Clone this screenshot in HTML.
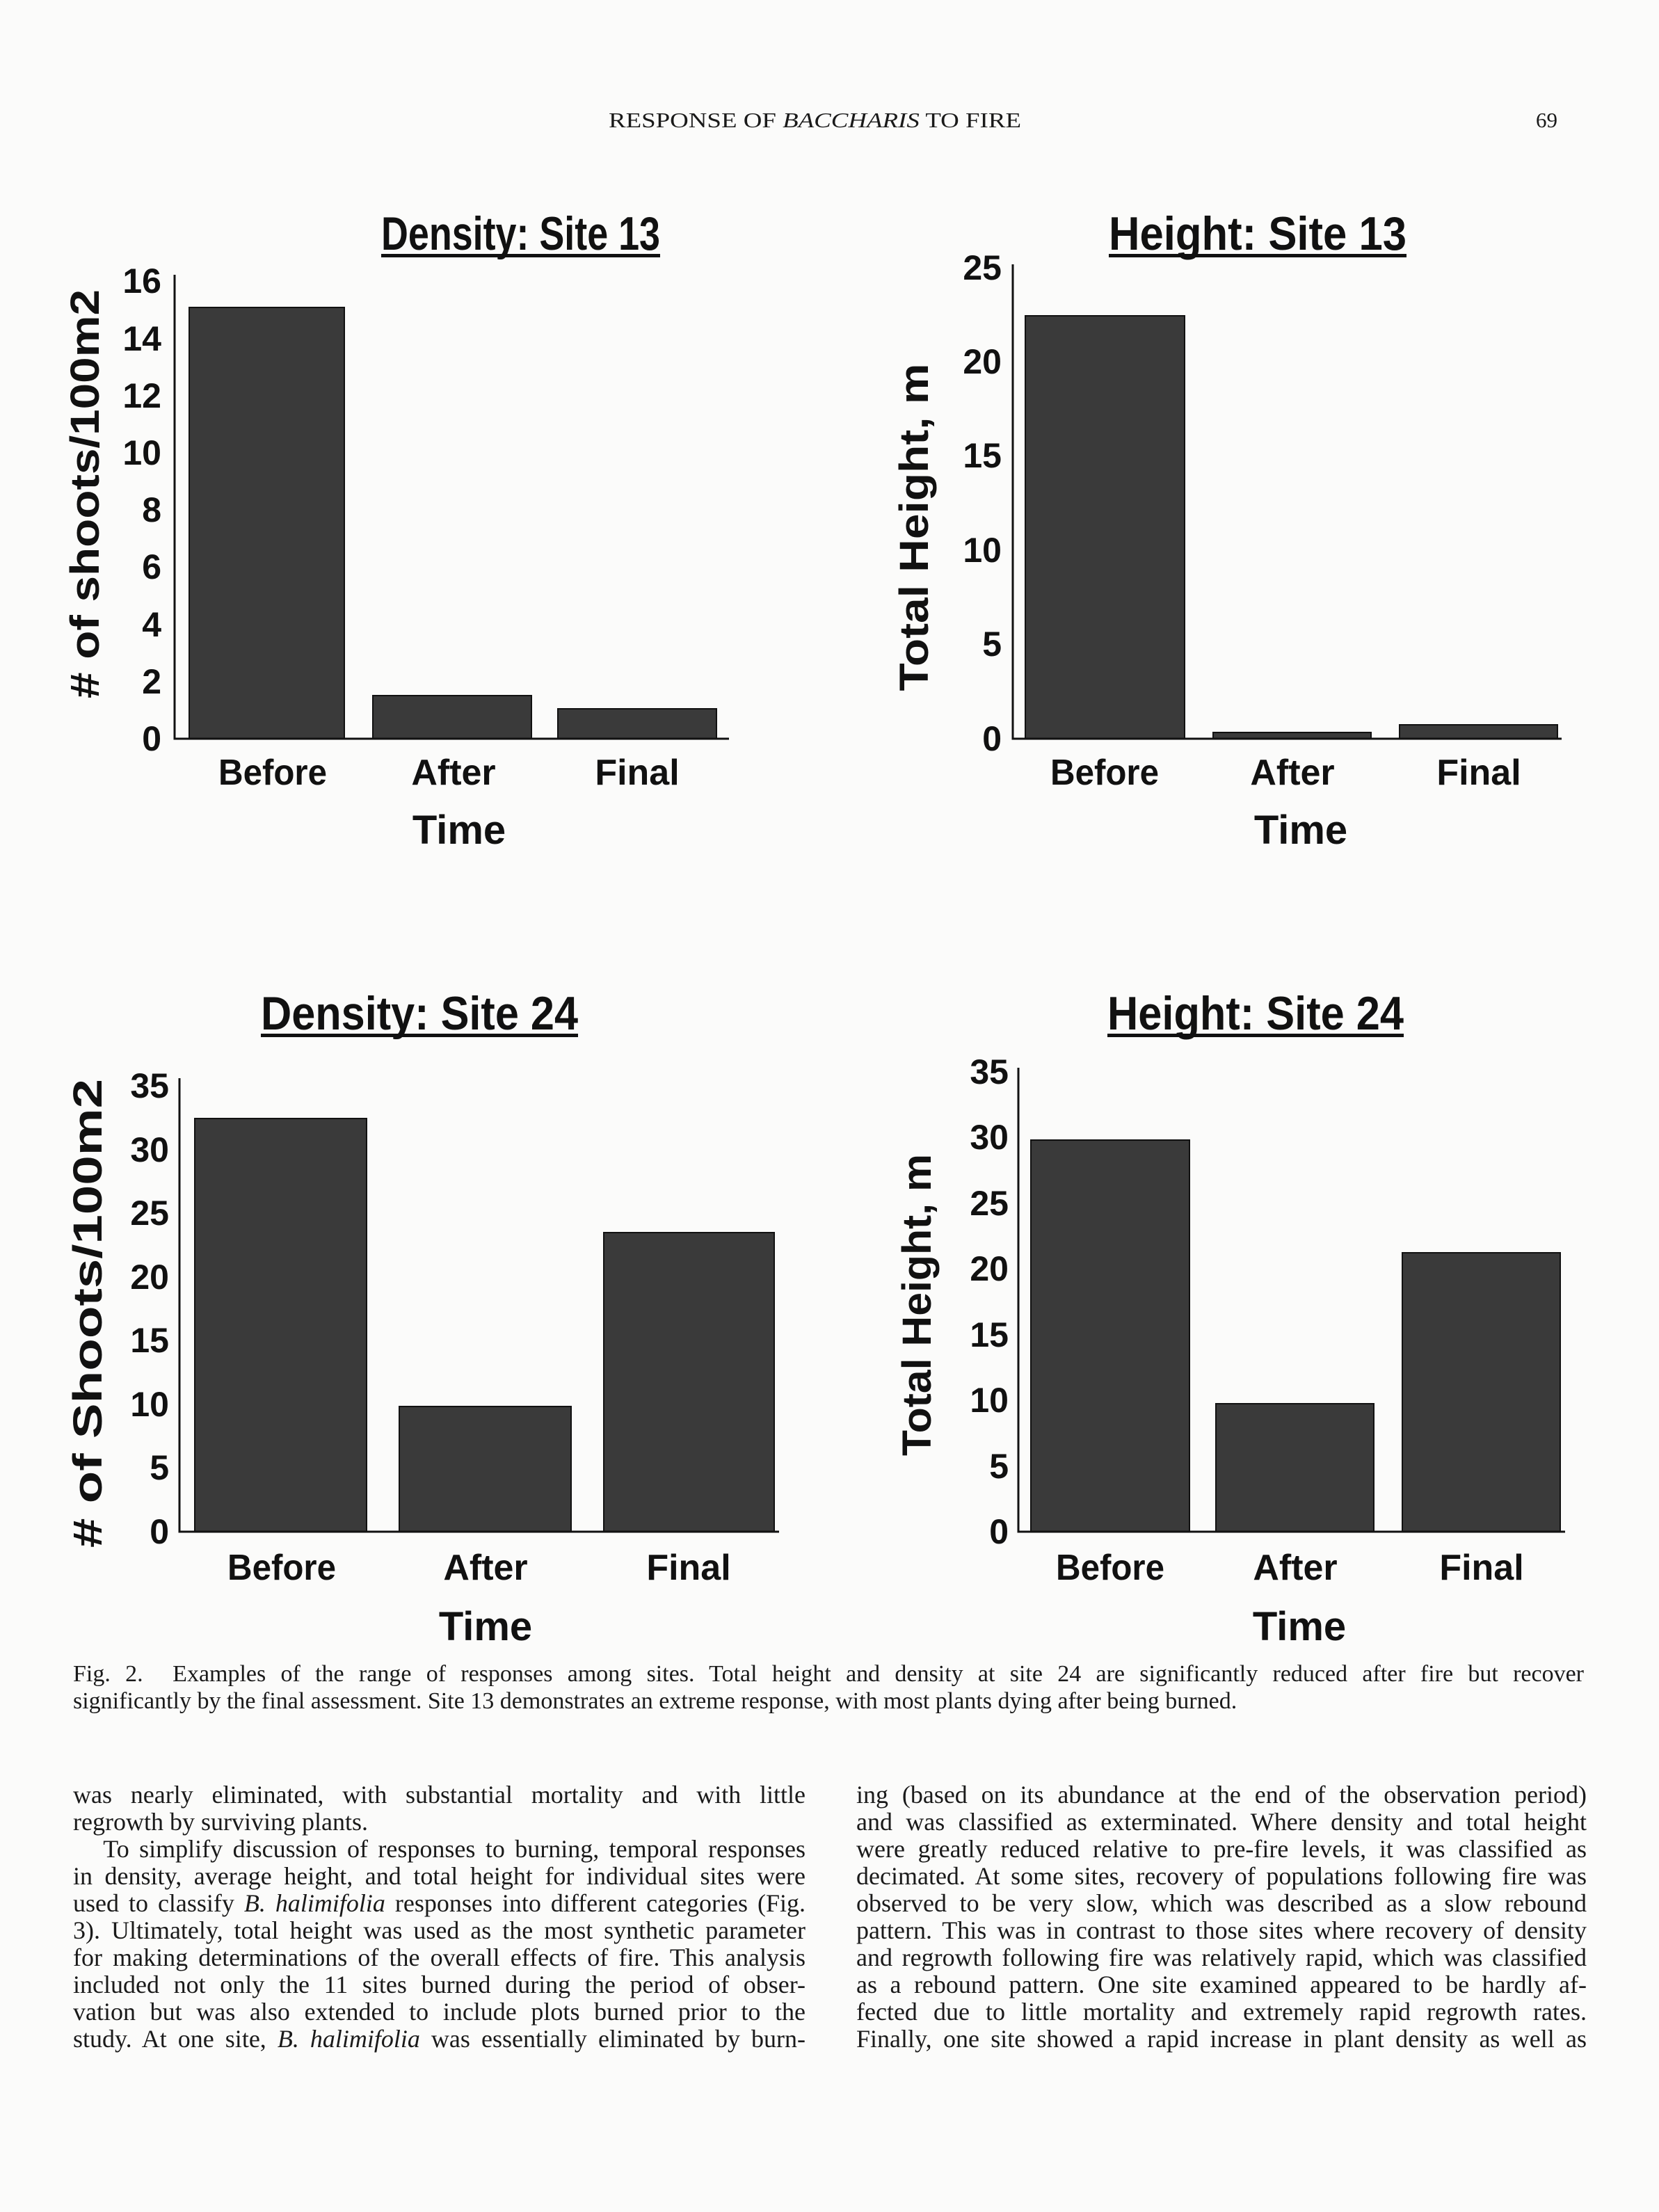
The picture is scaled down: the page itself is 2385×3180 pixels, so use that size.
<!DOCTYPE html>
<html><head><meta charset="utf-8"><style>
html,body{margin:0;padding:0;background:#fbfbfa;}
body{width:2385px;height:3180px;position:relative;overflow:hidden;}
svg{position:absolute;left:0;top:0;}
.col{position:absolute;font-family:"Liberation Serif",serif;font-size:36px;color:#1a1a1a;}
.col div{height:39px;line-height:39px;text-align:justify;text-align-last:justify;white-space:nowrap;}
.col div.l{text-align-last:left;}
</style></head><body>
<svg width="2385" height="3180" viewBox="0 0 2385 3180">
<g font-family="Liberation Serif, serif" fill="#1a1a1a">
<text x="875" y="183" font-size="31" textLength="593" lengthAdjust="spacingAndGlyphs">RESPONSE OF <tspan font-style="italic">BACCHARIS</tspan> TO FIRE</text>
<text x="2208" y="183" font-size="31">69</text>
</g>
<g fill="#3a3a3a" stroke="#111" stroke-width="2">
<rect x="272" y="442" width="223" height="620"/>
<rect x="536" y="1000" width="228" height="62"/>
<rect x="802" y="1019" width="228" height="43"/>
<rect x="1474" y="454" width="229" height="608"/>
<rect x="1744" y="1053" width="227" height="9"/>
<rect x="2012" y="1042" width="227" height="20"/>
<rect x="280" y="1608" width="247" height="594"/>
<rect x="574" y="2022" width="247" height="180"/>
<rect x="868" y="1772" width="245" height="430"/>
<rect x="1482" y="1639" width="228" height="563"/>
<rect x="1748" y="2018" width="227" height="184"/>
<rect x="2016" y="1801" width="227" height="401"/>
</g>
<g stroke="#111" stroke-width="3" fill="none">
<path d="M251 395 V1062 H1048"/>
<path d="M1456 380 V1062 H2245"/>
<path d="M258 1550 V2202 H1120"/>
<path d="M1464 1535 V2202 H2250"/>
</g>
<g font-family="Liberation Sans, Arial, sans-serif" font-weight="bold" fill="#111">
<text x="548" y="359" font-size="68" textLength="401" lengthAdjust="spacingAndGlyphs">Density: Site 13</text>
<rect x="548" y="365" width="401" height="5"/>
<text x="1594" y="359" font-size="68" textLength="428" lengthAdjust="spacingAndGlyphs">Height: Site 13</text>
<rect x="1594" y="365" width="428" height="5"/>
<text x="375" y="1480" font-size="68" textLength="456" lengthAdjust="spacingAndGlyphs">Density: Site 24</text>
<rect x="375" y="1486" width="456" height="5"/>
<text x="1592" y="1480" font-size="68" textLength="426" lengthAdjust="spacingAndGlyphs">Height: Site 24</text>
<rect x="1592" y="1486" width="426" height="5"/>

<g font-size="50" text-anchor="end">
<text x="232" y="1079">0</text><text x="232" y="997">2</text><text x="232" y="915">4</text><text x="232" y="832">6</text><text x="232" y="750">8</text><text x="232" y="668">10</text><text x="232" y="586">12</text><text x="232" y="504">14</text><text x="232" y="421">16</text>
<text x="1440" y="1079">0</text><text x="1440" y="943">5</text><text x="1440" y="808">10</text><text x="1440" y="672">15</text><text x="1440" y="537">20</text><text x="1440" y="402">25</text>
<text x="243" y="2219">0</text><text x="243" y="2127">5</text><text x="243" y="2036">10</text><text x="243" y="1944">15</text><text x="243" y="1853">20</text><text x="243" y="1761">25</text><text x="243" y="1670">30</text><text x="243" y="1578">35</text>
<text x="1450" y="2219">0</text><text x="1450" y="2125">5</text><text x="1450" y="2030">10</text><text x="1450" y="1936">15</text><text x="1450" y="1841">20</text><text x="1450" y="1747">25</text><text x="1450" y="1652">30</text><text x="1450" y="1558">35</text>
</g>
<g font-size="52" text-anchor="middle">
<text x="392" y="1128" textLength="156" lengthAdjust="spacingAndGlyphs">Before</text>
<text x="652" y="1128">After</text>
<text x="916" y="1128">Final</text>
<text x="1588" y="1128" textLength="156" lengthAdjust="spacingAndGlyphs">Before</text>
<text x="1858" y="1128">After</text>
<text x="2126" y="1128">Final</text>
<text x="405" y="2271" textLength="156" lengthAdjust="spacingAndGlyphs">Before</text>
<text x="698" y="2271">After</text>
<text x="990" y="2271">Final</text>
<text x="1596" y="2271" textLength="156" lengthAdjust="spacingAndGlyphs">Before</text>
<text x="1862" y="2271">After</text>
<text x="2130" y="2271">Final</text>
</g>
<g font-size="58" text-anchor="middle">
<text x="660" y="1213">Time</text>
<text x="1870" y="1213">Time</text>
<text x="698" y="2358">Time</text>
<text x="1868" y="2358">Time</text>
<text transform="translate(142,710) rotate(-90)" textLength="588" lengthAdjust="spacingAndGlyphs">#  of  shoots/100m2</text>
<text transform="translate(1334,758) rotate(-90)" textLength="471" lengthAdjust="spacingAndGlyphs">Total  Height,  m</text>
<text transform="translate(146,1888) rotate(-90)" textLength="674" lengthAdjust="spacingAndGlyphs">#  of  Shoots/100m2</text>
<text transform="translate(1338,1876) rotate(-90)" textLength="434" lengthAdjust="spacingAndGlyphs">Total  Height,  m</text>
</g>
</g>
</svg>
<div class="col" style="left:105px;top:2387px;width:2172px;font-size:34px;">
<div>Fig. 2.&nbsp; Examples of the range of responses among sites. Total height and density at site 24 are significantly reduced after fire but recover</div>
<div class="l">significantly by the final assessment. Site 13 demonstrates an extreme response, with most plants dying after being burned.</div>
</div>
<div class="col" style="left:105px;top:2561px;width:1053px;">
<div>was nearly eliminated, with substantial mortality and with little</div>
<div class="l">regrowth by surviving plants.</div>
<div>&nbsp;&nbsp;&nbsp;To simplify discussion of responses to burning, temporal responses</div>
<div>in density, average height, and total height for individual sites were</div>
<div>used to classify <i>B. halimifolia</i> responses into different categories (Fig.</div>
<div>3). Ultimately, total height was used as the most synthetic parameter</div>
<div>for making determinations of the overall effects of fire. This analysis</div>
<div>included not only the 11 sites burned during the period of obser-</div>
<div>vation but was also extended to include plots burned prior to the</div>
<div>study. At one site, <i>B. halimifolia</i> was essentially eliminated by burn-</div>
</div>
<div class="col" style="left:1231px;top:2561px;width:1050px;">
<div>ing (based on its abundance at the end of the observation period)</div>
<div>and was classified as exterminated. Where density and total height</div>
<div>were greatly reduced relative to pre-fire levels, it was classified as</div>
<div>decimated. At some sites, recovery of populations following fire was</div>
<div>observed to be very slow, which was described as a slow rebound</div>
<div>pattern. This was in contrast to those sites where recovery of density</div>
<div>and regrowth following fire was relatively rapid, which was classified</div>
<div>as a rebound pattern. One site examined appeared to be hardly af-</div>
<div>fected due to little mortality and extremely rapid regrowth rates.</div>
<div>Finally, one site showed a rapid increase in plant density as well as</div>
</div>
</body></html>
